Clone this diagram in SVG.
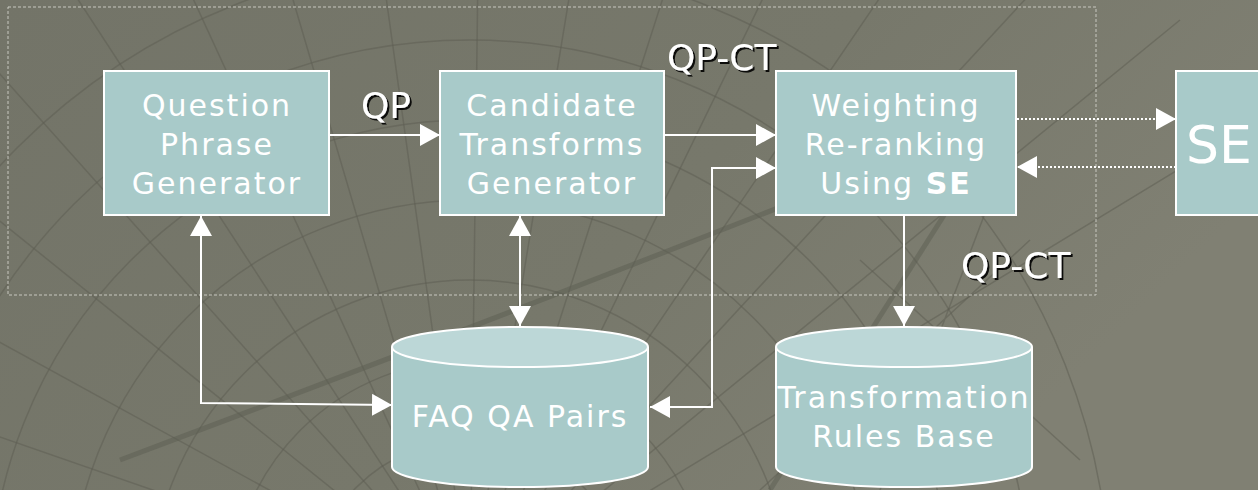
<svg xmlns="http://www.w3.org/2000/svg" width="1258" height="490" viewBox="0 0 1258 490">
  <defs>
    <linearGradient id="bg" x1="0" y1="0" x2="1" y2="0.4">
      <stop offset="0" stop-color="#737468"/>
      <stop offset="0.6" stop-color="#77786b"/>
      <stop offset="1" stop-color="#808073"/>
    </linearGradient>
    <filter id="shadow" x="-20%" y="-20%" width="140%" height="140%">
      <feDropShadow dx="2" dy="2" stdDeviation="0.4" flood-color="#000" flood-opacity="0.9"/>
    </filter>
    <marker id="arrow" viewBox="0 0 20 22" refX="20" refY="11" markerWidth="20" markerHeight="22" markerUnits="userSpaceOnUse" orient="auto-start-reverse">
      <path d="M0,0 L20,11 L0,22 Z" fill="#ffffff"/>
    </marker>
    <style>
      .box { fill: #a8cac9; stroke: #ffffff; stroke-width: 2; }
      .cyl-top { fill: #bcd7d7; stroke: #ffffff; stroke-width: 2; }
      .label { font-family: "DejaVu Sans", Verdana, sans-serif; font-size: 30px; fill: #ffffff; letter-spacing: 2px; text-anchor: middle; }
      .edge-label { font-family: "DejaVu Sans", Verdana, sans-serif; font-size: 36px; fill: #ffffff; filter: url(#shadow); }
      .conn { fill: none; stroke: #ffffff; stroke-width: 2; }
      .dotted { fill: none; stroke: #ffffff; stroke-width: 2; stroke-dasharray: 2 2; }
      .deco { fill: none; stroke: #5e5f54; stroke-width: 1.5; opacity: 0.55; }
      .deco-thick { fill: none; stroke: #5c5d52; stroke-width: 5; opacity: 0.5; }
    </style>
  </defs>

  <!-- backdrop -->
  <rect width="1258" height="490" fill="url(#bg)"/>

  <!-- decorative curved grid -->
  <g id="backdrop-grid">
    <circle class="deco" cx="470" cy="600" r="160"/>
    <circle class="deco" cx="470" cy="600" r="240"/>
    <circle class="deco" cx="470" cy="600" r="320"/>
    <circle class="deco" cx="470" cy="600" r="400"/>
    <circle class="deco" cx="470" cy="600" r="480"/>
    <circle class="deco" cx="470" cy="600" r="560"/>
    <circle class="deco" cx="470" cy="600" r="640"/>
    <path class="deco" d="M470,600 L-200,60 M470,600 L-120,-60 M470,600 L0,-120 M470,600 L120,-160 M470,600 L240,-180 M470,600 L360,-190 M470,600 L480,-190 M470,600 L600,-190 M470,600 L720,-180 M470,600 L840,-160 M470,600 L960,-120 M470,600 L1080,-60 M470,600 L1180,20 M470,600 L1260,120 M470,600 L-260,200 M470,600 L-280,340"/>
    <path class="deco-thick" d="M120,460 Q600,280 1000,120"/>
    <path class="deco-thick" d="M960,190 L770,490"/>
    <path class="deco" d="M990,200 L880,490 M1030,240 L760,490 M860,260 L1080,460"/>
  </g>

  <!-- dashed grouping frame -->
  <rect x="8" y="7" width="1088" height="288" fill="none" stroke="#c8c8c0" stroke-width="1" stroke-dasharray="3 2"/>

  <!-- connectors -->
  <g id="connectors">
    <path class="conn" d="M329,135 L440,135" marker-end="url(#arrow)"/>
    <path class="conn" d="M664,135 L776,135" marker-end="url(#arrow)"/>
    <path class="conn" d="M776,168 L712,168 L712,407 L650,407" marker-start="url(#arrow)" marker-end="url(#arrow)"/>
    <path class="conn" d="M201,216 L201,403 L392,405" marker-start="url(#arrow)" marker-end="url(#arrow)"/>
    <path class="conn" d="M520,216 L520,326" marker-start="url(#arrow)" marker-end="url(#arrow)"/>
    <path class="conn" d="M904,216 L904,326" marker-end="url(#arrow)"/>
    <path class="dotted" d="M1017,119 L1176,119" marker-end="url(#arrow)"/>
    <path class="dotted" d="M1176,167 L1017,167" marker-end="url(#arrow)"/>
  </g>

  <!-- edge labels -->
  <text class="edge-label" x="361" y="118">QP</text>
  <text class="edge-label" x="667" y="70">QP-CT</text>
  <text class="edge-label" x="961" y="278">QP-CT</text>

  <g id="question-phrase-generator">
    <rect class="box" x="104" y="71" width="225" height="144"/>
    <text class="label" x="217" y="116">Question</text>
    <text class="label" x="217" y="155">Phrase</text>
    <text class="label" x="217" y="194">Generator</text>
  </g>

  <g id="candidate-transforms-generator">
    <rect class="box" x="440" y="71" width="224" height="144"/>
    <text class="label" x="552" y="116">Candidate</text>
    <text class="label" x="552" y="155">Transforms</text>
    <text class="label" x="552" y="194">Generator</text>
  </g>

  <g id="weighting-reranking">
    <rect class="box" x="776" y="71" width="240" height="144"/>
    <text class="label" x="896" y="116">Weighting</text>
    <text class="label" x="896" y="155">Re-ranking</text>
    <text class="label" x="896" y="194">Using <tspan font-weight="bold">SE</tspan></text>
  </g>

  <g id="search-engine">
    <rect class="box" x="1176" y="71" width="100" height="144"/>
    <text x="1186" y="163" font-family="DejaVu Sans, Verdana, sans-serif" font-size="52" fill="#ffffff">SE</text>
  </g>

  <g id="faq-qa-pairs">
    <path class="box" d="M392,347 L392,467 A128,20 0 0 0 648,467 L648,347"/>
    <ellipse class="cyl-top" cx="520" cy="347" rx="128" ry="20"/>
    <text class="label" x="520" y="427" letter-spacing="1">FAQ QA Pairs</text>
  </g>

  <g id="transformation-rules-base">
    <path class="box" d="M776,347 L776,467 A128,20 0 0 0 1032,467 L1032,347"/>
    <ellipse class="cyl-top" cx="904" cy="347" rx="128" ry="20"/>
    <text class="label" x="904" y="408" letter-spacing="1">Transformation</text>
    <text class="label" x="904" y="447" letter-spacing="1">Rules Base</text>
  </g>
</svg>
